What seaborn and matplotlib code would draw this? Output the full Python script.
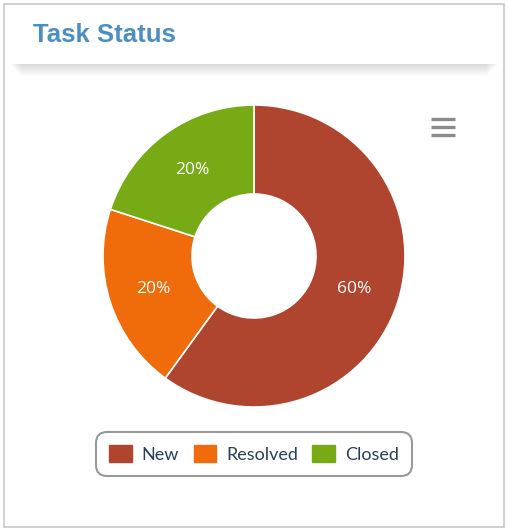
import matplotlib
matplotlib.use("Agg")
import matplotlib.pyplot as plt
import matplotlib.patches as mpatches
from matplotlib.lines import Line2D
import seaborn as sns

statuses = ["New", "Resolved", "Closed"]
shares = [60, 20, 20]
colours = ["#b0452f", "#f06b0a", "#77aa14"]

sns.set_theme(style="white")
plt.rcParams["font.family"] = ["Lato", "DejaVu Sans"]

W, H = 508, 531
fig = plt.figure(figsize=(W / 100, H / 100), dpi=100)
fig.patch.set_facecolor("white")


def box(x0, y0, x1, y1, **kw):
    # rectangle in pixel coords measured from the top-left corner
    r = mpatches.Rectangle((x0 / W, 1 - y1 / H), (x1 - x0) / W, (y1 - y0) / H,
                           transform=fig.transFigure, **kw)
    fig.add_artist(r)
    return r


# card outline
box(4, 4, 504, 527, facecolor="white", edgecolor="#c8c8c8", linewidth=1.2, zorder=0)
# header shadow (soft)
for i in range(14):
    box(8 + i * 1.0, 62, 500 - i * 1.0, 63 + i, facecolor="black", edgecolor="none",
        alpha=0.011, zorder=1)
box(5, 5, 503, 64, facecolor="white", edgecolor="none", zorder=2)
fig.text(33 / W, 1 - 35 / H, "Task Status", color="#4a8fc2", fontsize=18.5,
         fontweight="bold", family=["Liberation Sans", "DejaVu Sans"],
         ha="left", va="center", zorder=3)

# hamburger menu icon
for yy in (119, 127, 135):
    fig.add_artist(Line2D([431 / W, 455 / W], [1 - yy / H, 1 - yy / H],
                          transform=fig.transFigure, color="#8c8c8c",
                          linewidth=2.4, solid_capstyle="butt"))

# donut
cx, cy, R = 254, 256, 151
ax = fig.add_axes([(cx - R) / W, (H - cy - R) / H, 2 * R / W, 2 * R / H])
wedges, texts, autotexts = ax.pie(
    shares, colors=colours, startangle=90, counterclock=False,
    autopct="%d%%", pctdistance=0.70, radius=1,
    wedgeprops=dict(width=1 - 62 / 151, edgecolor="white", linewidth=1.2))
for t in autotexts:
    t.set_color("white")
    t.set_fontsize(12.5)
    t.set_family(["Open Sans", "DejaVu Sans"])
ax.set_xlim(-1, 1)
ax.set_ylim(-1, 1)
ax.set_aspect("equal")
ax.axis("off")

handles = [mpatches.FancyBboxPatch((0, 0), 1, 1, boxstyle="round,pad=0.02", color=c)
           for c in colours]
leg = fig.legend(handles, statuses, loc="center", bbox_to_anchor=(254 / W, 1 - 454 / H),
                 ncol=3, frameon=True, fancybox=True, fontsize=13,
                 handlelength=1.25, handleheight=1.0, handletextpad=0.55,
                 columnspacing=0.8, borderpad=0.72, labelcolor="#24405e")
frame = leg.get_frame()
frame.set_edgecolor("#999999")
frame.set_linewidth(1.5)
frame.set_boxstyle("round,pad=0,rounding_size=0.6")
frame.set_alpha(1)

fig.savefig("out.png", dpi=100)
